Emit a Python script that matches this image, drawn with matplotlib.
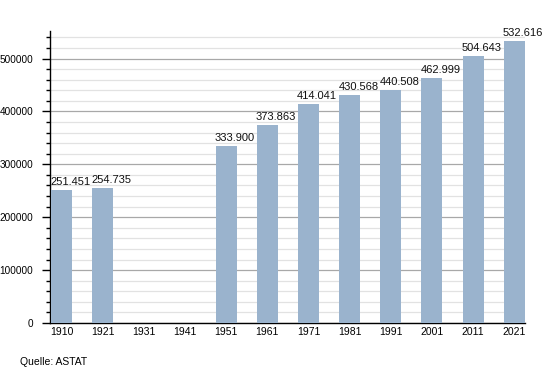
import matplotlib
matplotlib.use("Agg")
from matplotlib import pyplot as plt
from matplotlib.ticker import MultipleLocator

years = ["1910", "1921", "1931", "1941", "1951", "1961", "1971", "1981", "1991", "2001", "2011", "2021"]
population = [251451, 254735, None, None, 333900, 373863, 414041, 430568, 440508, 462999, 504643, 532616]
labels = ["251.451", "254.735", "", "", "333.900", "373.863", "414.041", "430.568",
          "440.508", "462.999", "504.643", "532.616"]

plt.rcParams['font.family'] = ['Liberation Sans', 'DejaVu Sans']

fig = plt.figure(figsize=(5.55, 3.73), dpi=100)
ax = fig.add_axes([50 / 555, 1 - 323 / 373, 475 / 555, 292 / 373])

bar_w = 0.51
x = list(range(len(years)))
heights = [v if v is not None else 0 for v in population]
ax.bar(x, heights, width=bar_w, color='#9ab3cd', zorder=3)

# value labels start at the left edge of each bar, like the original
for xi, v, lab in zip(x, heights, labels):
    if lab:
        ax.text(xi - bar_w / 2 - 0.02, v + 6000, lab, ha='left', va='bottom',
                fontsize=8, color='#111111', zorder=4)

ax.set_xlim(-0.28, 11.26)
ax.set_ylim(0, 552000)
ax.set_xticks(x)
ax.set_xticklabels(years, fontsize=7.5)
ax.tick_params(axis='x', length=0, pad=3)

ax.yaxis.set_major_locator(MultipleLocator(100000))
ax.yaxis.set_minor_locator(MultipleLocator(20000))
ax.tick_params(axis='y', which='major', length=6, width=1, labelsize=7.2, pad=6)
ax.tick_params(axis='y', which='minor', length=3, width=1)
ax.grid(axis='y', which='major', color='#a8a8a8', linewidth=0.9, zorder=0)
ax.grid(axis='y', which='minor', color='#e2e2e2', linewidth=0.9, zorder=0)

for s in ['top', 'right']:
    ax.spines[s].set_visible(False)
ax.spines['left'].set_linewidth(1)
ax.spines['bottom'].set_linewidth(1)

fig.text(20 / 555, 1 - 362 / 373, "Quelle: ASTAT", fontsize=7.5, va='center', ha='left')

fig.savefig("out.png", dpi=100)
